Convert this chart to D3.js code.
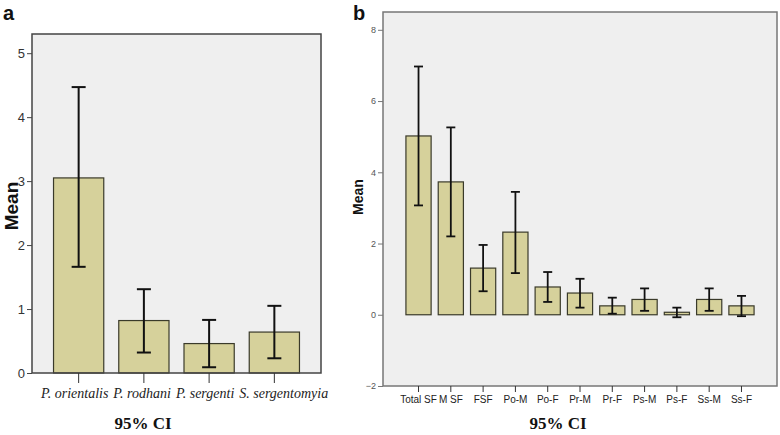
<!DOCTYPE html>
<html>
<head>
<meta charset="utf-8">
<script src="https://cdn.jsdelivr.net/npm/d3@7"></script>
<style>
  body { margin: 0; background: #fff; }
  svg { display: block; }
</style>
</head>
<body>
<svg id="chart" width="780" height="435"></svg>
<script>
// panel a: species means with 95% CI
const speciesA = ["P. orientalis", "P. rodhani", "P. sergenti", "S. sergentomyia"];
const meanA = [3.05, 0.82, 0.46, 0.64];
const lowA = [1.66, 0.32, 0.09, 0.23];
const highA = [4.47, 1.31, 0.83, 1.05];
const ticksA = [0, 1, 2, 3, 4, 5];

// panel b: groups by sex
const groupsB = ["Total SF", "M SF", "FSF", "Po-M", "Po-F", "Pr-M", "Pr-F", "Ps-M", "Ps-F", "Ss-M", "Ss-F"];
const meanB = [5.02, 3.73, 1.31, 2.32, 0.78, 0.61, 0.25, 0.43, 0.07, 0.43, 0.25];
const lowB = [3.07, 2.2, 0.66, 1.17, 0.36, 0.2, 0.03, 0.11, -0.07, 0.11, -0.04];
const highB = [6.97, 5.26, 1.96, 3.45, 1.2, 1.01, 0.48, 0.74, 0.2, 0.74, 0.53];
const ticksB = [-2, 0, 2, 4, 6, 8];

const svg = d3.select("#chart");
const barFill = "#d6d19b";
const bgFill = "#efefef";

function drawPanel(opt) {
  const { cats, means, lows, highs, ticks, box, yDomain } = opt;
  const g = svg.append("g");

  const x = d3.scaleBand().domain(cats)
    .range([box.left, box.right])
    .paddingInner(opt.padInner).paddingOuter(opt.padOuter);
  const y = d3.scaleLinear().domain(yDomain).range([box.bottom, box.top]);

  // plot background
  g.append("rect")
    .attr("x", box.left).attr("y", box.top)
    .attr("width", box.right - box.left).attr("height", box.bottom - box.top)
    .attr("fill", bgFill);

  // bars
  g.append("g").selectAll("rect")
    .data(cats)
    .join("rect")
    .attr("x", d => x(d))
    .attr("width", x.bandwidth())
    .attr("y", (d, i) => y(means[i]))
    .attr("height", (d, i) => y(0) - y(means[i]))
    .attr("fill", barFill)
    .attr("stroke", "#3a3a2a")
    .attr("stroke-width", 1.2);

  // error bars
  const eb = g.append("g").attr("stroke", "#111").attr("stroke-width", opt.errWidth);
  cats.forEach((c, i) => {
    const cx = x(c) + x.bandwidth() / 2;
    eb.append("line").attr("x1", cx).attr("x2", cx).attr("y1", y(lows[i])).attr("y2", y(highs[i]));
    [lows[i], highs[i]].forEach(v => {
      eb.append("line")
        .attr("x1", cx - opt.cap).attr("x2", cx + opt.cap)
        .attr("y1", y(v)).attr("y2", y(v));
    });
  });

  // frame
  g.append("rect")
    .attr("x", box.left).attr("y", box.top)
    .attr("width", box.right - box.left).attr("height", box.bottom - box.top)
    .attr("fill", "none")
    .attr("stroke", opt.frameColor)
    .attr("stroke-width", 1.5);

  // y axis
  const yAxis = g.append("g")
    .attr("transform", `translate(${box.left},0)`)
    .call(d3.axisLeft(y).tickValues(ticks).tickFormat(d3.format("d"))
      .tickSize(opt.yTick).tickSizeOuter(0).tickPadding(2));
  yAxis.select(".domain").remove();
  yAxis.selectAll("line").attr("stroke", opt.frameColor);
  yAxis.selectAll("text")
    .attr("font-family", "'Liberation Sans Narrow', 'Arial Narrow', sans-serif")
    .attr("font-size", opt.yFont)
    .attr("fill", opt.yColor);

  // x axis
  const xAxis = g.append("g")
    .attr("transform", `translate(0,${box.bottom})`)
    .call(d3.axisBottom(x).tickSize(opt.xTick).tickSizeOuter(0).tickPadding(opt.xPad));
  xAxis.select(".domain").remove();
  xAxis.selectAll("line").attr("stroke", "#333");
  const xLabels = xAxis.selectAll("text")
    .attr("font-family", opt.xFamily)
    .attr("font-style", opt.xStyle)
    .attr("font-size", opt.xFont)
    .attr("fill", "#222");

  // long labels: lay them out left to right so they don't collide
  if (opt.flowLabels) {
    let cursor = null;
    xLabels.each(function(d) {
      const w = this.getComputedTextLength();
      const cx = x(d) + x.bandwidth() / 2;
      let left = cursor === null ? cx - w / 2 + opt.flowStart : cursor;
      d3.select(this).attr("text-anchor", "start").attr("x", left - cx);
      cursor = left + w + opt.flowGap;
    });
  }

  // axis titles
  svg.append("text")
    .attr("x", opt.xTitle[0]).attr("y", opt.xTitle[1])
    .attr("text-anchor", "middle")
    .attr("font-family", "'Liberation Serif', 'Times New Roman', serif")
    .attr("font-weight", "bold")
    .attr("font-size", 17)
    .attr("fill", "#111")
    .text("95% CI");

  svg.append("text")
    .attr("transform", `translate(${opt.yTitle[0]},${opt.yTitle[1]}) rotate(-90)`)
    .attr("text-anchor", "middle")
    .attr("dy", "0.35em")
    .attr("font-family", "'Liberation Sans', Arial, sans-serif")
    .attr("font-weight", "bold")
    .attr("font-size", opt.yTitleSize)
    .attr("fill", "#111")
    .text("Mean");

  svg.append("text")
    .attr("x", opt.letter[0]).attr("y", opt.letter[1])
    .attr("font-family", "'Liberation Sans', Arial, sans-serif")
    .attr("font-weight", "bold")
    .attr("font-size", 20)
    .attr("fill", "#111")
    .text(opt.label);
}

drawPanel({
  label: "a", letter: [3, 20],
  cats: speciesA, means: meanA, lows: lowA, highs: highA, ticks: ticksA,
  box: { left: 32, right: 321, top: 34, bottom: 373 },
  yDomain: [0, 5.3],
  padInner: 0.23, padOuter: 0.33,
  cap: 7, errWidth: 2,
  frameColor: "#444", yTick: 5, yFont: 13, yColor: "#333",
  xTick: 10, xPad: 5, xFont: 14, xStyle: "italic",
  xFamily: "'Liberation Serif', 'Times New Roman', serif",
  flowLabels: true, flowStart: -4, flowGap: 5,
  xTitle: [143, 429], yTitle: [11, 206], yTitleSize: 19
});

drawPanel({
  label: "b", letter: [353, 20],
  cats: groupsB, means: meanB, lows: lowB, highs: highB, ticks: ticksB,
  box: { left: 383, right: 777, top: 12, bottom: 386 },
  yDomain: [-2, 8.5],
  padInner: 0.22, padOuter: 0.71,
  cap: 4.5, errWidth: 1.8,
  frameColor: "#777", yTick: 5, yFont: 9, yColor: "#555",
  xTick: 6, xPad: 4, xFont: 10, xStyle: "normal",
  xFamily: "'Liberation Sans Narrow', 'Arial Narrow', sans-serif",
  xTitle: [558, 429], yTitle: [358, 197], yTitleSize: 14
});
</script>
</body>
</html>
